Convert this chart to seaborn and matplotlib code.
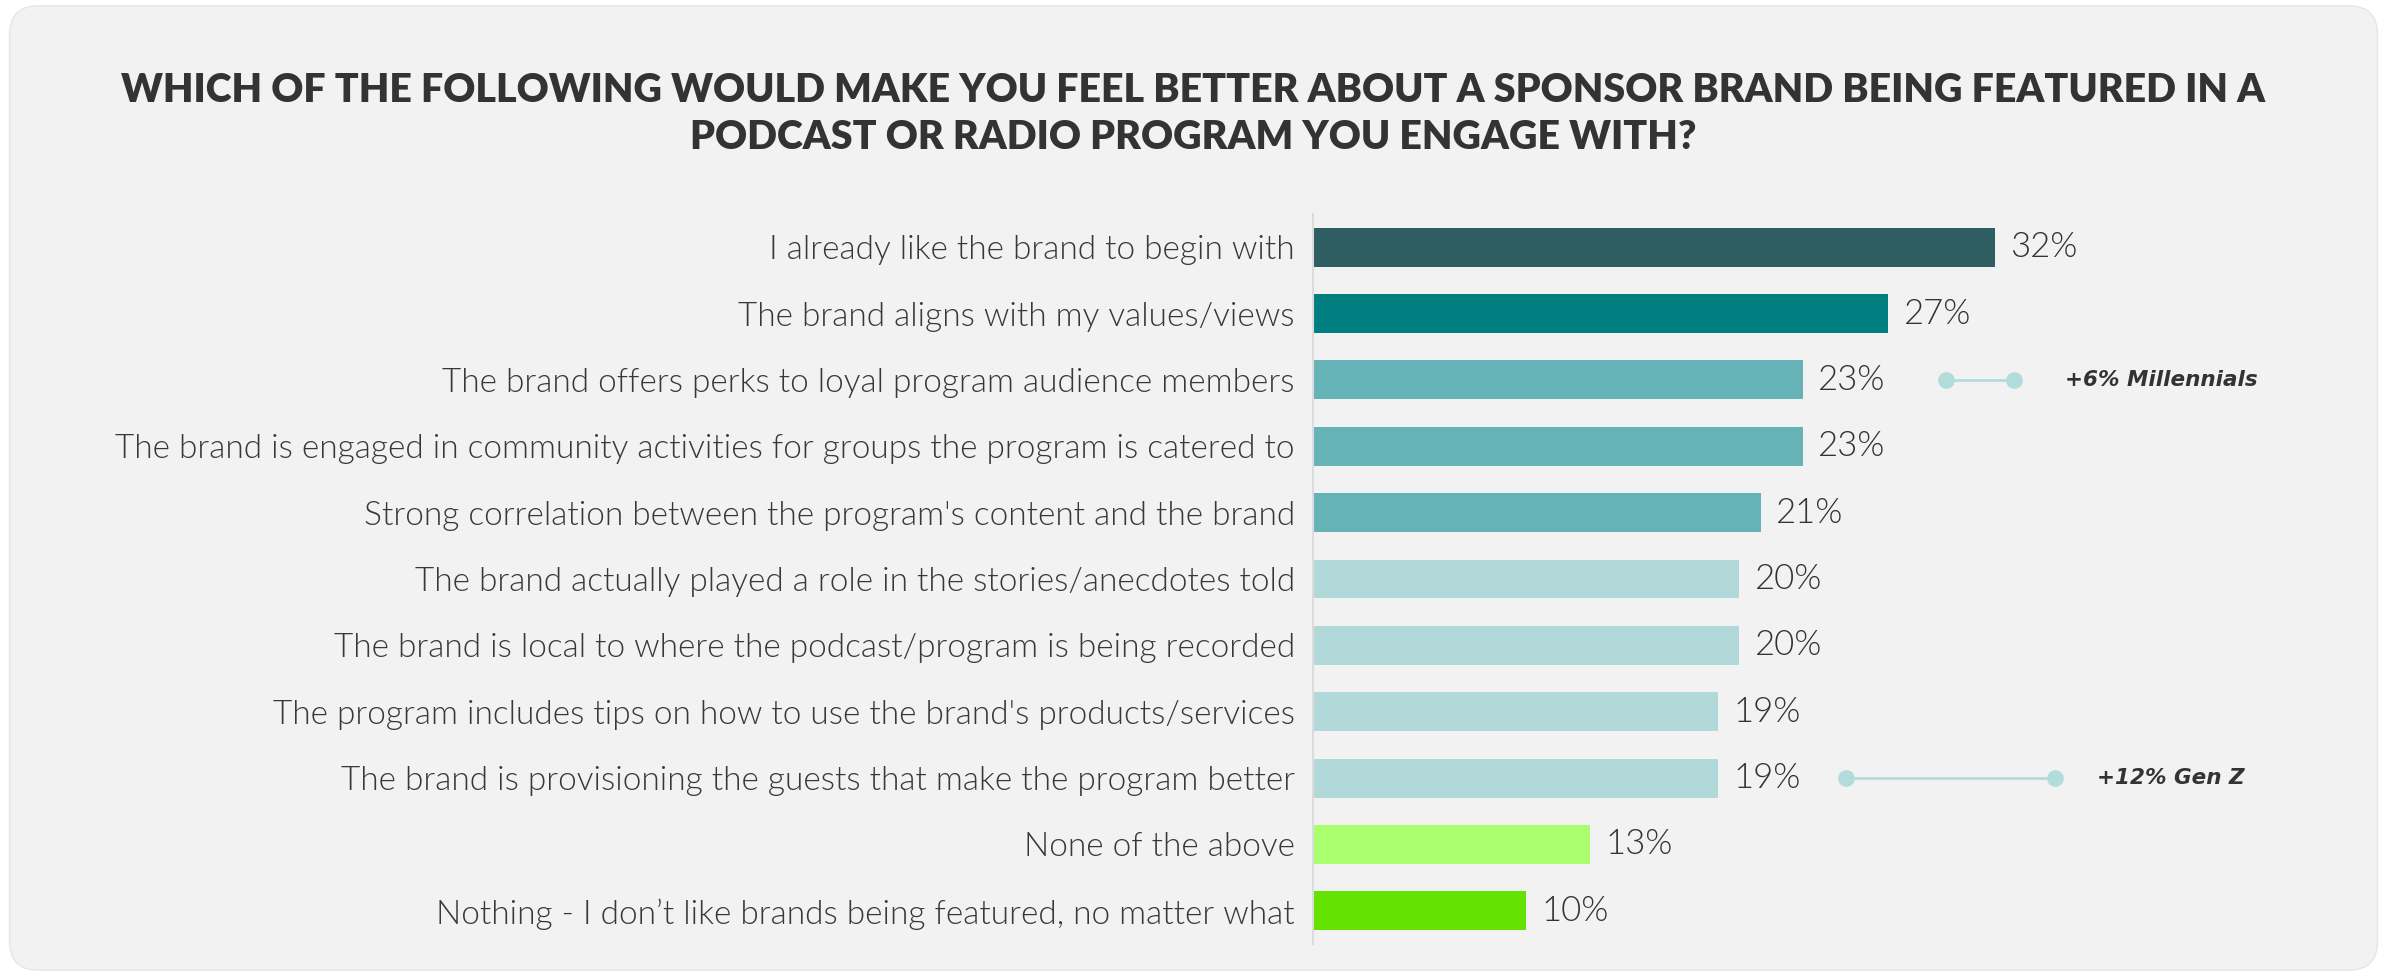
import matplotlib
matplotlib.use("Agg")
import matplotlib.pyplot as plt
from matplotlib.patches import FancyBboxPatch
import seaborn as sns
import pandas as pd

# Survey responses (share of respondents, %)
categories = [
    "I already like the brand to begin with",
    "The brand aligns with my values/views",
    "The brand offers perks to loyal program audience members",
    "The brand is engaged in community activities for groups the program is catered to",
    "Strong correlation between the program's content and the brand",
    "The brand actually played a role in the stories/anecdotes told",
    "The brand is local to where the podcast/program is being recorded",
    "The program includes tips on how to use the brand's products/services",
    "The brand is provisioning the guests that make the program better",
    "None of the above",
    "Nothing - I don\u2019t like brands being featured, no matter what",
]
values = [32, 27, 23, 23, 21, 20, 20, 19, 19, 13, 10]
bar_colors = [
    "#2e5e62", "#007f81", "#66b3b7", "#66b3b7", "#66b3b7",
    "#b2d9da", "#b2d9da", "#b2d9da", "#b2d9da", "#aaff6e", "#64e302",
]

# Generational call-outs
callout_rows = [2, 8]
callout_start = [29.7, 25.0]
callout_end = [32.9, 34.8]
callout_text_x = [35.3, 36.8]
callout_text = ["+6% Millennials", "+12% Gen Z"]

title = ("WHICH OF THE FOLLOWING WOULD MAKE YOU FEEL BETTER ABOUT A SPONSOR BRAND BEING FEATURED IN A\n"
         "PODCAST OR RADIO PROGRAM YOU ENGAGE WITH?")

sns.set_theme(style="white")
plt.rcParams["font.family"] = ["Lato", "DejaVu Sans"]

W, H = 2387, 976
fig = plt.figure(figsize=(W / 100, H / 100), dpi=100)
fig.patch.set_facecolor("white")
bg = FancyBboxPatch((0.004, 0.006), 0.992, 0.988,
                    boxstyle="round,pad=0,rounding_size=0.012",
                    transform=fig.transFigure, facecolor="#f2f2f2",
                    edgecolor="#e6e6e6", linewidth=1, mutation_aspect=W / H,
                    zorder=-10)
fig.patches.append(bg)

ax_left, ax_right = 1313 / W, 2340 / W
ax_bottom, ax_top = (H - 944) / H, (H - 214) / H
ax = fig.add_axes([ax_left, ax_bottom, ax_right - ax_left, ax_top - ax_bottom])
ax.set_facecolor("none")

df = pd.DataFrame({"category": categories, "value": values})
sns.barplot(data=df, x="value", y="category", hue="category",
            palette=bar_colors, orient="h", width=0.585,
            legend=False, ax=ax, saturation=1, linewidth=0)

ax.set_xlim(0, (2340 - 1313) / 21.31)
ax.set_ylim(len(categories) - 0.5, -0.5)
ax.set_xlabel("")
ax.set_ylabel("")
ax.set_xticks([])

for s in ["top", "right", "bottom"]:
    ax.spines[s].set_visible(False)
ax.spines["left"].set_color("#dcdcdc")
ax.spines["left"].set_linewidth(1.5)

ax.set_yticks(range(len(categories)))
ax.set_yticklabels(categories)
ax.tick_params(axis="y", which="major", length=0, pad=13,
               labelsize=24.0, labelcolor="#383838")
for lab in ax.get_yticklabels():
    lab.set_fontweight(300)
ax.set_yticks([i - 0.5 for i in range(len(categories) + 1)], minor=True)
ax.tick_params(axis="y", which="minor", length=6.5, width=1.5, color="#dcdcdc")

for i, v in enumerate(values):
    ax.annotate(f"{v}%", xy=(v, i), xytext=(11, 0), textcoords="offset points",
                va="center", ha="left", fontsize=25, fontweight=300,
                color="#333333")

for r, x0, x1, tx, t in zip(callout_rows, callout_start, callout_end,
                            callout_text_x, callout_text):
    ax.plot([x0, x1], [r, r], color="#b2dcdc", linewidth=2, zorder=3)
    ax.plot([x0, x1], [r, r], linestyle="none", marker="o", markersize=11,
            color="#b2dcdc", zorder=4)
    ax.text(tx, r, t, va="center", ha="left", fontsize=15.5,
            family="DejaVu Sans", fontweight="bold", fontstyle="oblique",
            color="#333333")

fig.text(0.5, (H - 114) / H, title, ha="center", va="center",
         fontsize=28.4, fontweight="heavy", color="#333333", linespacing=1.33)

fig.savefig("out.png", dpi=100, facecolor=fig.get_facecolor())
